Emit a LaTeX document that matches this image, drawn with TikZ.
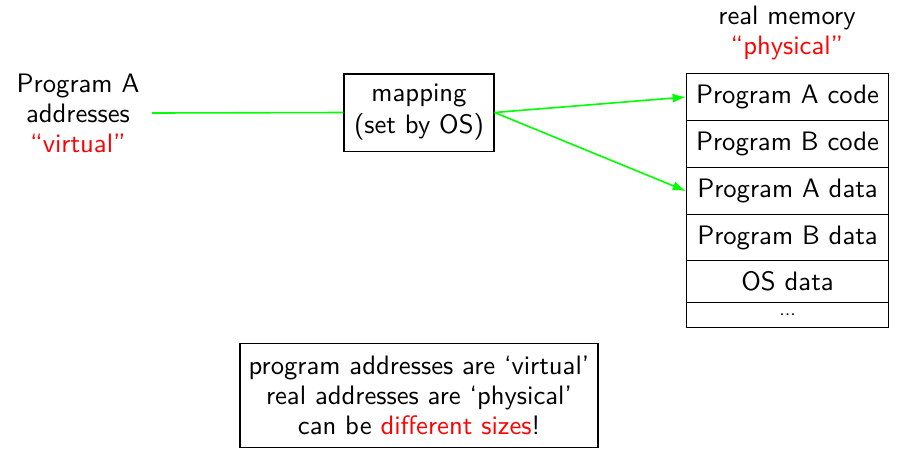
\documentclass[tikz,border=0pt]{standalone}
\usetikzlibrary{arrows.meta}
\renewcommand{\familydefault}{\sfdefault}
\begin{document}
\begin{tikzpicture}[x={(0.375pt,0)},y={(0,-0.375pt)},
  box/.style={draw,line width=0.4pt,inner sep=0pt,align=center},
  memrow/.style={box,minimum width=75.75pt,anchor=north west},
  link/.style={draw={rgb,255:red,0;green,255;blue,0},line width=0.6pt},
  txt/.style={align=center,inner sep=0pt}]
\useasboundingbox (0,0) rectangle (899,449);
\node[txt] (prog) at (78,113) {Program A\\[-0.75pt]addresses\\[-0.75pt]\textcolor{red}{``virtual''}};
\node[box,minimum width=56.25pt,minimum height=28.9pt] (map) at (419,112.5) {mapping\\[0pt](set by OS)};
\node[txt] (real) at (787,32.5) {real memory\\[-0.75pt]\textcolor{red}{``physical''}};
\node[memrow,minimum height=17.625pt] (r1) at (686,73) {Program A code};
\node[memrow,minimum height=17.625pt] (r2) at (686,120) {Program B code};
\node[memrow,minimum height=17.625pt] (r3) at (686,167) {Program A data};
\node[memrow,minimum height=17.25pt] (r4) at (686,214) {Program B data};
\node[memrow,minimum height=15.75pt] (r5) at (686,260) {OS data};
\node[memrow,minimum height=9.375pt] (r6) at (686,302) {\scriptsize ...};
\node[box,minimum width=134.25pt,minimum height=39pt] (note) at (419,395.5) {program addresses are `virtual'\\[-0.75pt]real addresses are `physical'\\[-0.75pt]can be \textcolor{red}{different sizes}!};
\coordinate (pstart) at (152,113);
\draw[link] (pstart) -- (map.west);
\draw[link,-{Latex[length=5pt,width=3.5pt]}] (map.east) -- (r1.west);
\draw[link,-{Latex[length=5pt,width=3.5pt]}] (map.east) -- (r3.west);
\end{tikzpicture}
\end{document}
